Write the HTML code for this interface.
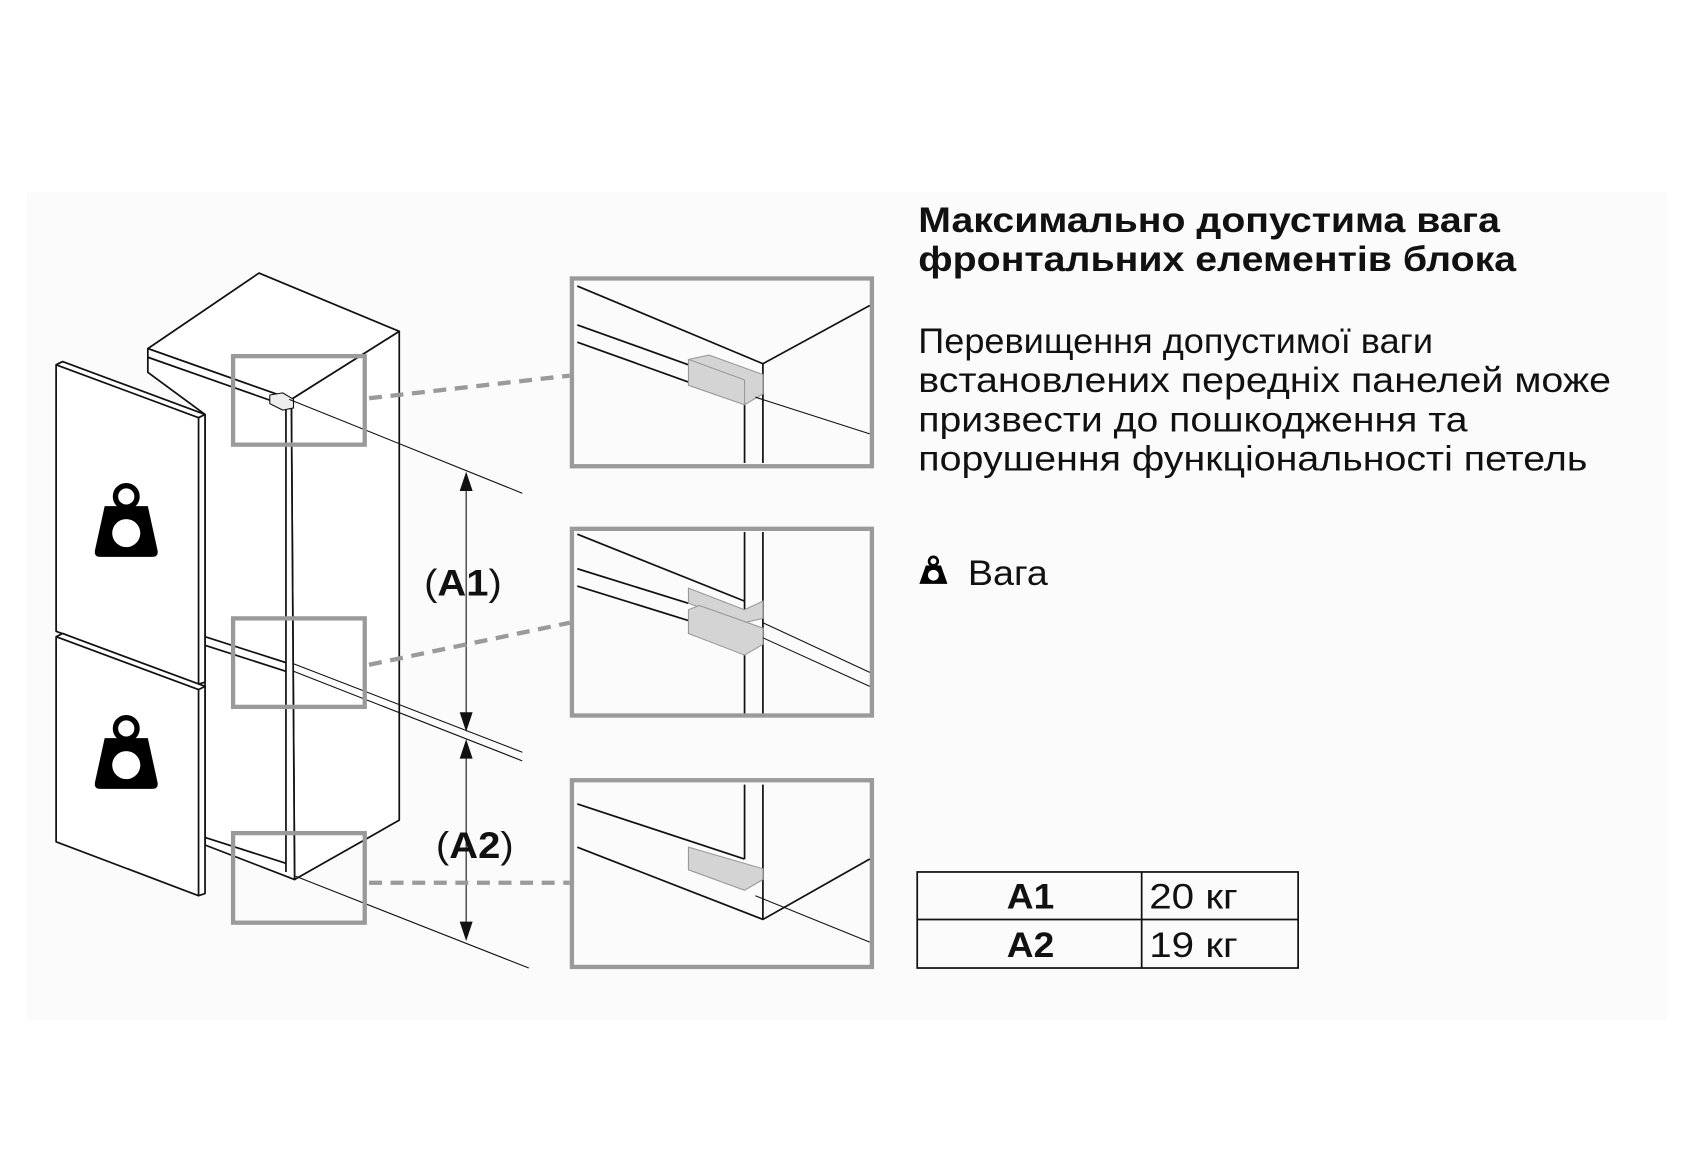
<!DOCTYPE html>
<html><head><meta charset="utf-8"><style>
html,body{margin:0;padding:0;background:#fff}
svg{display:block}
text{font-family:"Liberation Sans",Arial,sans-serif;fill:#111}
</style></head><body>
<svg width="1692" height="1158" viewBox="0 0 1568 1073" xmlns="http://www.w3.org/2000/svg">
<rect x="25" y="178" width="1520" height="768" fill="#fbfbfb"/>
<g fill="none" stroke="#111" stroke-width="1.6" stroke-linejoin="round">
<polygon points="137,323 240,253 370,307 270,370" fill="#fff"/>
<polygon points="270,370 370,307 370,760 273,815" fill="#fff"/>
<polygon points="137,323 270,370 273,815 190,783 190,384 137,345" fill="#fff"/>
<line x1="137" y1="331" x2="262" y2="375"/>
<line x1="265" y1="375" x2="265" y2="808"/>
<line x1="190" y1="590" x2="265" y2="614"/>
<line x1="190" y1="598" x2="265" y2="622"/>
<line x1="190" y1="776" x2="265" y2="800"/>
<polygon points="250,366 262,364 272,370 272,378 262,380 250,374" fill="#eee" stroke-width="1"/>
<polygon points="52,338 58,335 190,384 190,632 184,634 52,585" fill="#fff"/>
<polyline points="52,338 184,387 184,634"/>
<line x1="184" y1="387" x2="190" y2="384"/>
<polygon points="52,590 58,587 190,636 190,828 184,830 52,780" fill="#fff"/>
<polyline points="52,590 184,639 184,830"/>
<line x1="184" y1="639" x2="190" y2="636"/>
</g>
<g fill="#000">
<path d="M97,469 L137,469 L146,510 Q147,516 141,516 L93,516 Q87,516 88,510 Z"/>
<circle cx="117" cy="460" r="10" fill="none" stroke="#000" stroke-width="5"/>
<circle cx="117" cy="494" r="13" fill="#fff"/>
<path d="M97,684 L137,684 L146,725 Q147,731 141,731 L93,731 Q87,731 88,725 Z"/>
<circle cx="117" cy="675" r="10" fill="none" stroke="#000" stroke-width="5"/>
<circle cx="117" cy="709" r="13" fill="#fff"/>
</g>
<g stroke="#111" stroke-width="1">
<line x1="268" y1="370" x2="484" y2="457"/>
<line x1="272" y1="615" x2="484" y2="697"/>
<line x1="272" y1="622" x2="484" y2="705"/>
<line x1="274" y1="812" x2="490" y2="897"/>
<line x1="432" y1="445" x2="432" y2="670"/>
<line x1="432" y1="693" x2="432" y2="864"/>
</g>
<g fill="#111">
<polygon points="432,437 426,455 438,455"/>
<polygon points="432,678 426,660 438,660"/>
<polygon points="432,685 426,703 438,703"/>
<polygon points="432,872 426,854 438,854"/>
</g>
<text x="393" y="552" font-size="34" textLength="72" lengthAdjust="spacingAndGlyphs"><tspan>(</tspan><tspan font-weight="bold">A1</tspan><tspan>)</tspan></text>
<text x="404" y="795" font-size="34" textLength="72" lengthAdjust="spacingAndGlyphs"><tspan>(</tspan><tspan font-weight="bold">A2</tspan><tspan>)</tspan></text>
<g fill="none" stroke="#9a9a9a" stroke-width="4">
<rect x="216" y="330" width="122" height="82"/>
<rect x="216" y="573" width="122" height="82"/>
<rect x="216" y="772" width="122" height="83"/>
<rect x="530" y="258" width="278" height="174"/>
<rect x="530" y="490" width="278" height="173"/>
<rect x="530" y="723" width="278" height="173"/>
<g stroke-dasharray="12,8">
<line x1="342" y1="369" x2="528" y2="348"/>
<line x1="342" y1="616" x2="528" y2="577"/>
<line x1="342" y1="818" x2="528" y2="818"/>
</g>
</g>
<g fill="none" stroke="#111" stroke-width="1.6">
<polyline points="535,265 707,337 806,283"/>
<line x1="535" y1="301" x2="638" y2="338"/>
<line x1="535" y1="317" x2="638" y2="354"/>
<line x1="690" y1="375" x2="690" y2="429"/>
<line x1="707" y1="337" x2="707" y2="429"/>
<polygon points="638,333 657,329 707,347 707,365 690,375 638,357" fill="#d4d4d4" stroke="#999" stroke-width="1"/>
<line x1="638" y1="333" x2="690" y2="352" stroke="#999" stroke-width="1"/>
<line x1="690" y1="352" x2="690" y2="375" stroke="#999" stroke-width="1"/>
<line x1="700" y1="368" x2="806" y2="402" stroke-width="1"/>
<line x1="535" y1="495" x2="690" y2="557"/>
<line x1="535" y1="527" x2="638" y2="559"/>
<line x1="535" y1="543" x2="638" y2="575"/>
<line x1="690" y1="493" x2="690" y2="661"/>
<line x1="707" y1="493" x2="707" y2="661"/>
<polygon points="638,545 690,565 707,557 707,573 690,577 638,559" fill="#d4d4d4" stroke="#999" stroke-width="1"/>
<polygon points="638,565 648,561 707,582 707,597 690,607 638,587" fill="#d4d4d4" stroke="#999" stroke-width="1"/>
<line x1="707" y1="577" x2="806" y2="623" stroke-width="1"/>
<line x1="707" y1="591" x2="806" y2="636" stroke-width="1"/>
<line x1="535" y1="745" x2="690" y2="796"/>
<polyline points="535,785 707,852 806,796"/>
<line x1="690" y1="727" x2="690" y2="796"/>
<line x1="707" y1="727" x2="707" y2="852"/>
<polygon points="638,785 707,805 707,815 690,825 638,806" fill="#d4d4d4" stroke="#999" stroke-width="1"/>
<line x1="700" y1="830" x2="806" y2="873" stroke-width="1"/>
</g>
<text x="851" y="215" font-size="33" font-weight="bold" textLength="539" lengthAdjust="spacingAndGlyphs">Максимально допустима вага</text>
<text x="851" y="251" font-size="33" font-weight="bold" textLength="554" lengthAdjust="spacingAndGlyphs">фронтальних елементів блока</text>
<text x="851" y="327" font-size="33" textLength="477" lengthAdjust="spacingAndGlyphs">Перевищення допустимої ваги</text>
<text x="851" y="363" font-size="33" textLength="642" lengthAdjust="spacingAndGlyphs">встановлених передніх панелей може</text>
<text x="851" y="400" font-size="33" textLength="509" lengthAdjust="spacingAndGlyphs">призвести до пошкодження та</text>
<text x="851" y="436" font-size="33" textLength="620" lengthAdjust="spacingAndGlyphs">порушення функціональності петель</text>
<g fill="#000">
<path d="M858,524 L872,524 L878,541 L852,541 Z"/>
<circle cx="865" cy="520" r="4" fill="none" stroke="#000" stroke-width="2.5"/>
<circle cx="865" cy="533" r="5" fill="#fff"/>
</g>
<text x="897" y="542" font-size="33" textLength="74" lengthAdjust="spacingAndGlyphs">Вага</text>
<g fill="none" stroke="#111" stroke-width="1.6">
<rect x="850" y="808" width="353" height="89"/>
<line x1="850" y1="852" x2="1203" y2="852"/>
<line x1="1058" y1="808" x2="1058" y2="897"/>
</g>
<text x="933" y="842" font-size="33" font-weight="bold" textLength="44" lengthAdjust="spacingAndGlyphs">A1</text>
<text x="933" y="887" font-size="33" font-weight="bold" textLength="44" lengthAdjust="spacingAndGlyphs">A2</text>
<text x="1065" y="842" font-size="33" textLength="82" lengthAdjust="spacingAndGlyphs">20 кг</text>
<text x="1065" y="887" font-size="33" textLength="82" lengthAdjust="spacingAndGlyphs">19 кг</text>
</svg>
</body></html>
